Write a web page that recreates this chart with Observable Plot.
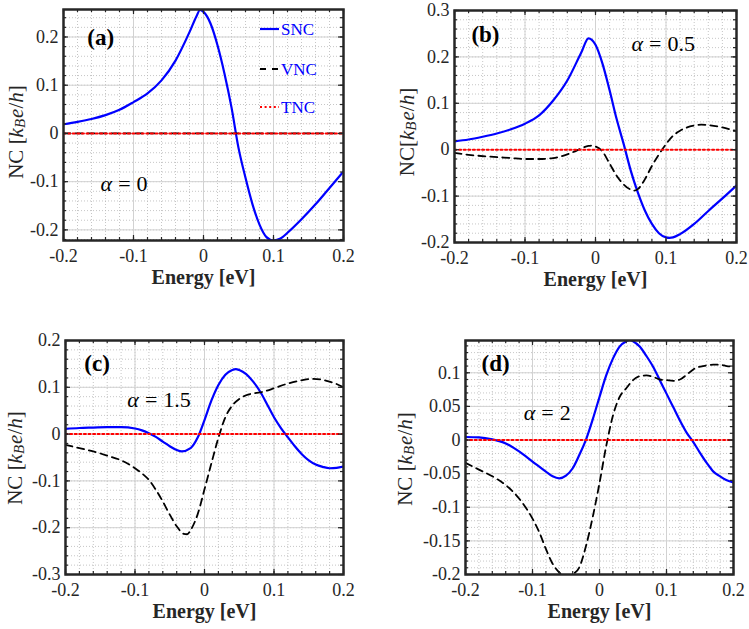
<!DOCTYPE html>
<html>
<head>
<meta charset="utf-8">
<script src="https://cdn.jsdelivr.net/npm/d3@7"></script>
<script src="https://cdn.jsdelivr.net/npm/@observablehq/plot@0.6"></script>
<style>
  body { margin: 0; background: #fff; }
  #fig { position: relative; width: 749px; height: 629px; background: #fff; overflow: hidden; }
  #fig svg { position: absolute; }
  #fig svg, #fig svg text, #fig svg tspan {
    font-family: "Liberation Serif", "Times New Roman", "DejaVu Serif", serif !important;
  }
</style>
</head>
<body>
<div id="fig"></div>
<script>
// ---- (a) alpha = 0 ----
const aE   = [-0.2, -0.18, -0.16, -0.14, -0.12, -0.1, -0.08, -0.06, -0.04, -0.02, -0.01, -0.005, 0, 0.01, 0.02, 0.03, 0.04, 0.05, 0.06, 0.07, 0.08, 0.09, 0.1, 0.11, 0.12, 0.14, 0.16, 0.18, 0.2];
const aSNC = [0.019, 0.024, 0.03, 0.038, 0.049, 0.065, 0.083, 0.11, 0.151, 0.21, 0.243, 0.256, 0.252, 0.228, 0.183, 0.124, 0.054, -0.03, -0.092, -0.147, -0.189, -0.215, -0.222, -0.218, -0.206, -0.178, -0.147, -0.113, -0.079];
const aVE  = [-0.2, 0.2];
const aVNC = [0, 0];

// ---- (b) alpha = 0.5 ----
const bE   = [-0.2, -0.18, -0.16, -0.14, -0.12, -0.1, -0.08, -0.06, -0.04, -0.02, -0.01, 0, 0.01, 0.02, 0.03, 0.04, 0.05, 0.06, 0.07, 0.08, 0.09, 0.1, 0.105, 0.11, 0.12, 0.14, 0.16, 0.18, 0.2];
const bSNC = [0.018, 0.022, 0.028, 0.035, 0.044, 0.056, 0.074, 0.106, 0.149, 0.21, 0.24, 0.226, 0.185, 0.128, 0.066, 0.012, -0.045, -0.092, -0.131, -0.16, -0.18, -0.189, -0.19, -0.189, -0.182, -0.16, -0.132, -0.105, -0.077];
const bVE  = [-0.2, -0.18, -0.15, -0.12, -0.1, -0.08, -0.06, -0.04, -0.03, -0.02, -0.01, -0.005, 0, 0.01, 0.02, 0.03, 0.04, 0.05, 0.055, 0.06, 0.07, 0.08, 0.09, 0.1, 0.11, 0.12, 0.13, 0.14, 0.15, 0.16, 0.18, 0.2];
const bVNC = [-0.007, -0.011, -0.015, -0.018, -0.02, -0.02, -0.018, -0.01, -0.004, 0.003, 0.008, 0.009, 0.007, -0.004, -0.03, -0.056, -0.075, -0.086, -0.088, -0.085, -0.064, -0.035, -0.01, 0.012, 0.03, 0.041, 0.048, 0.052, 0.054, 0.053, 0.048, 0.04];

// ---- (c) alpha = 1.5 ----
const cE   = [-0.2, -0.18, -0.16, -0.14, -0.12, -0.1, -0.09, -0.08, -0.07, -0.06, -0.05, -0.04, -0.033, -0.02, -0.01, 0, 0.01, 0.02, 0.03, 0.04, 0.045, 0.05, 0.06, 0.07, 0.08, 0.09, 0.1, 0.11, 0.12, 0.13, 0.14, 0.15, 0.16, 0.17, 0.18, 0.19, 0.2];
const cSNC = [0.011, 0.013, 0.014, 0.015, 0.015, 0.012, 0.008, 0.002, -0.006, -0.016, -0.026, -0.034, -0.037, -0.03, -0.008, 0.03, 0.072, 0.105, 0.127, 0.137, 0.139, 0.137, 0.128, 0.112, 0.091, 0.064, 0.036, 0.013, -0.007, -0.026, -0.043, -0.056, -0.065, -0.07, -0.073, -0.072, -0.069];
const cVE  = [-0.2, -0.18, -0.16, -0.14, -0.12, -0.1, -0.09, -0.08, -0.07, -0.06, -0.05, -0.04, -0.03, -0.025, -0.02, -0.01, 0, 0.01, 0.02, 0.03, 0.04, 0.05, 0.06, 0.07, 0.08, 0.09, 0.1, 0.12, 0.14, 0.155, 0.17, 0.18, 0.19, 0.2];
const cVNC = [-0.023, -0.03, -0.037, -0.046, -0.056, -0.073, -0.084, -0.098, -0.119, -0.144, -0.172, -0.197, -0.213, -0.214, -0.205, -0.172, -0.118, -0.062, -0.008, 0.036, 0.061, 0.075, 0.083, 0.087, 0.089, 0.093, 0.098, 0.108, 0.115, 0.118, 0.116, 0.112, 0.107, 0.1];

// ---- (d) alpha = 2 ----
const dE   = [-0.2, -0.18, -0.16, -0.14, -0.12, -0.1, -0.08, -0.07, -0.06, -0.05, -0.04, -0.03, -0.02, -0.01, 0, 0.01, 0.02, 0.03, 0.04, 0.045, 0.05, 0.06, 0.07, 0.08, 0.09, 0.1, 0.11, 0.12, 0.13, 0.14, 0.15, 0.16, 0.17, 0.18, 0.19, 0.2];
const dSNC = [0.0045, 0.004, 0.001, -0.005, -0.017, -0.032, -0.047, -0.054, -0.057, -0.053, -0.042, -0.022, 0.001, 0.031, 0.064, 0.096, 0.121, 0.139, 0.147, 0.149, 0.147, 0.139, 0.125, 0.109, 0.089, 0.069, 0.049, 0.029, 0.011, -0.003, -0.019, -0.034, -0.047, -0.054, -0.06, -0.063];
const dVE  = [-0.2, -0.18, -0.16, -0.14, -0.12, -0.1, -0.09, -0.08, -0.07, -0.06, -0.05, -0.045, -0.04, -0.03, -0.02, -0.01, 0, 0.01, 0.02, 0.03, 0.04, 0.05, 0.06, 0.07, 0.08, 0.09, 0.1, 0.11, 0.12, 0.13, 0.14, 0.16, 0.17, 0.18, 0.19, 0.2];
const dVNC = [-0.034, -0.044, -0.054, -0.067, -0.087, -0.117, -0.137, -0.162, -0.184, -0.197, -0.203, -0.204, -0.2, -0.189, -0.157, -0.114, -0.064, -0.009, 0.036, 0.064, 0.077, 0.089, 0.095, 0.096, 0.094, 0.09, 0.089, 0.088, 0.09, 0.097, 0.105, 0.111, 0.112, 0.112, 0.11, 0.109];

// TNC is zero across the whole energy window in every case
const tncE = [-0.2, 0.2];
const tnc  = [0, 0];

// Axis ticks
const xTicks  = [-0.2, -0.1, 0, 0.1, 0.2];
const aYTicks = [-0.2, -0.1, 0, 0.1, 0.2];
const bYTicks = [-0.2, -0.1, 0, 0.1, 0.2, 0.3];
const cYTicks = [-0.3, -0.2, -0.1, 0, 0.1, 0.2];
const dYTicks = [-0.2, -0.15, -0.1, -0.05, 0, 0.05, 0.1];

// Text
const panelTags   = ["(a)", "(b)", "(c)", "(d)"];
const alphaLabels = ["α = 0", "α = 0.5", "α = 1.5", "α = 2"];
const legendNames = ["SNC", "VNC", "TNC"];
const xLabel = "Energy [eV]";

// ---------------------------------------------------------------
const SERIF = "'Liberation Serif', 'Times New Roman', 'DejaVu Serif', serif";
const INK = "#262626";
const rows = (E, V) => E.map((x, i) => ({x, y: V[i]}));
const fmt = d => String(d);

const styles = {
  snc: {stroke: "#0000ff", strokeWidth: 2.2},
  vnc: {stroke: "#000000", strokeWidth: 1.8, strokeDasharray: "7,5"},
  tnc: {stroke: "#ff0000", strokeWidth: 2, strokeDasharray: "2,2.6"}
};

const panels = [
  {left: 0, top: 0, width: 375, height: 315, m: [9, 32, 75, 63],
   yDomain: [-0.222, 0.257], yTicks: aYTicks, yMinorStep: 0.02,
   snc: [aE, aSNC], vnc: [aVE, aVNC],
   tagAt: [-0.166, 0.198], alphaAt: [-0.147, -0.104],
   ylab: [16, 132], spaced: true, legend: true},
  {left: 375, top: 0, width: 374, height: 315, m: [10, 13, 73, 79],
   yDomain: [-0.2, 0.3], yTicks: bYTicks, yMinorStep: 0.02,
   snc: [bE, bSNC], vnc: [bVE, bVNC],
   tagAt: [-0.176, 0.248], alphaAt: [0.051, 0.228],
   ylab: [32, 132], spaced: false, legend: false},
  {left: 0, top: 315, width: 375, height: 314, m: [25, 32, 55, 65],
   yDomain: [-0.3, 0.2], yTicks: cYTicks, yMinorStep: 0.02,
   snc: [cE, cSNC], vnc: [cVE, cVNC],
   tagAt: [-0.173, 0.151], alphaAt: [-0.111, 0.073],
   ylab: [15, 143], spaced: true, legend: false},
  {left: 375, top: 315, width: 374, height: 314, m: [25, 16, 55, 90],
   yDomain: [-0.2, 0.148], yTicks: dYTicks, yMinorStep: 0.01,
   snc: [dE, dSNC], vnc: [dVE, dVNC],
   tagAt: [-0.176, 0.114], alphaAt: [-0.113, 0.04],
   ylab: [30, 144], spaced: true, legend: false}
];

function minorTicks(lo, hi, step) {
  return d3.ticks(lo, hi, Math.round((hi - lo) / step));
}

function addYLabel(svg, cx, cy, spaced) {
  const t = d3.select(svg).append("text")
    .attr("transform", `translate(${cx},${cy}) rotate(-90)`)
    .attr("text-anchor", "middle")
    .attr("dominant-baseline", "central")
    .attr("font-family", SERIF)
    .attr("font-size", 21)
    .attr("fill", INK);
  t.append("tspan").text(spaced ? "NC [" : "NC[");
  t.append("tspan").attr("font-style", "italic").text("k");
  t.append("tspan").attr("font-style", "italic").attr("font-size", 15).attr("dy", 4).text("B");
  t.append("tspan").attr("font-style", "italic").attr("dy", -4).attr("dx", 1).text("e");
  t.append("tspan").text("/");
  t.append("tspan").attr("font-style", "italic").text("h");
  t.append("tspan").text("]");
}

// math-style annotation: italic alpha, wider spacing around "="
function styleAlpha(svg) {
  d3.select(svg).selectAll("text")
    .filter(function () { return this.textContent.startsWith("α"); })
    .each(function () {
      const rest = this.textContent.slice(1).replace(/^\s*=\s*/, "");
      const t = d3.select(this);
      t.text(null);
      t.append("tspan").attr("font-style", "italic").text("α");
      t.append("tspan").attr("dx", 6).text("=");
      t.append("tspan").attr("dx", 6).text(rest);
    });
}

function addLegend(svg) {
  const g = d3.select(svg).append("g")
    .attr("font-family", SERIF).attr("font-size", 17).attr("text-anchor", "start");
  const keys = ["snc", "vnc", "tnc"];
  const rowsY = [29, 69, 107];
  keys.forEach((k, i) => {
    const s = styles[k];
    g.append("line")
      .attr("x1", 260).attr("x2", 279).attr("y1", rowsY[i]).attr("y2", rowsY[i])
      .attr("stroke", s.stroke).attr("stroke-width", s.strokeWidth)
      .attr("stroke-dasharray", k === "vnc" ? "6,6" : (s.strokeDasharray || null));
    g.append("text")
      .attr("x", 281).attr("y", rowsY[i]).attr("dy", "0.35em")
      .attr("text-anchor", "start")
      .attr("fill", "#0000ff").text(legendNames[i]);
  });
}

const fig = document.getElementById("fig");

panels.forEach((p, i) => {
  const [mt, mr, mb, ml] = p.m;
  const innerH = p.height - mt - mb;
  const innerW = p.width - ml - mr;
  const xMinor = minorTicks(-0.2, 0.2, 0.02);
  const yMinor = minorTicks(p.yDomain[0], p.yDomain[1], p.yMinorStep);

  const svg = Plot.plot({
    width: p.width,
    height: p.height,
    marginTop: mt, marginRight: mr, marginBottom: mb, marginLeft: ml,
    style: {fontFamily: SERIF, fontSize: "18px", color: INK, background: "transparent", overflow: "visible"},
    x: {domain: [-0.2, 0.2]},
    y: {domain: p.yDomain},
    marks: [
      // grid
      Plot.gridX(xMinor, {stroke: "#b8b8b8", strokeOpacity: 1, strokeWidth: 0.8, strokeDasharray: "1,2"}),
      Plot.gridY(yMinor, {stroke: "#b8b8b8", strokeOpacity: 1, strokeWidth: 0.8, strokeDasharray: "1,2"}),
      Plot.gridX(xTicks, {stroke: "#d2d2d2", strokeOpacity: 1, strokeWidth: 1}),
      Plot.gridY(p.yTicks, {stroke: "#d2d2d2", strokeOpacity: 1, strokeWidth: 1}),
      // curves
      Plot.line(rows(...p.snc), {x: "x", y: "y", ...styles.snc, curve: "monotone-x", clip: true}),
      Plot.line(rows(...p.vnc), {x: "x", y: "y", ...styles.vnc, curve: "monotone-x", clip: true}),
      Plot.line(rows(tncE, tnc), {x: "x", y: "y", ...styles.tnc, clip: true}),
      // inward ticks on all four sides
      Plot.tickX(xMinor, {stroke: INK, strokeWidth: 1.2, insetTop: innerH - 3}),
      Plot.tickX(xMinor, {stroke: INK, strokeWidth: 1.2, insetBottom: innerH - 3}),
      Plot.tickX(xTicks, {stroke: INK, strokeWidth: 1.2, insetTop: innerH - 5}),
      Plot.tickX(xTicks, {stroke: INK, strokeWidth: 1.2, insetBottom: innerH - 5}),
      Plot.tickY(yMinor, {stroke: INK, strokeWidth: 1.2, insetRight: innerW - 3}),
      Plot.tickY(yMinor, {stroke: INK, strokeWidth: 1.2, insetLeft: innerW - 3}),
      Plot.tickY(p.yTicks, {stroke: INK, strokeWidth: 1.2, insetRight: innerW - 5}),
      Plot.tickY(p.yTicks, {stroke: INK, strokeWidth: 1.2, insetLeft: innerW - 5}),
      Plot.frame({stroke: INK, strokeWidth: 2.5}),
      // axes
      Plot.axisX(xTicks, {anchor: "bottom", tickSize: 0, tickPadding: 9, tickFormat: fmt, label: null, fontSize: 18}),
      Plot.axisY(p.yTicks, {anchor: "left", tickSize: 0, tickPadding: 5, tickFormat: fmt, label: null, fontSize: 18}),
      Plot.text([xLabel], {frameAnchor: "bottom", dy: 43, fontWeight: "bold", fontSize: 20, fill: INK}),
      // annotations
      Plot.text([panelTags[i]], {x: () => p.tagAt[0], y: () => p.tagAt[1], textAnchor: "start", fontWeight: "bold", fontSize: 23, fill: "#000"}),
      Plot.text([alphaLabels[i]], {x: () => p.alphaAt[0], y: () => p.alphaAt[1], textAnchor: "start", fontSize: 22, fill: "#000"})
    ]
  });

  svg.style.left = p.left + "px";
  svg.style.top = p.top + "px";
  addYLabel(svg, p.ylab[0], p.ylab[1], p.spaced);
  styleAlpha(svg);
  if (p.legend) addLegend(svg);
  fig.appendChild(svg);
});
</script>
</body>
</html>
